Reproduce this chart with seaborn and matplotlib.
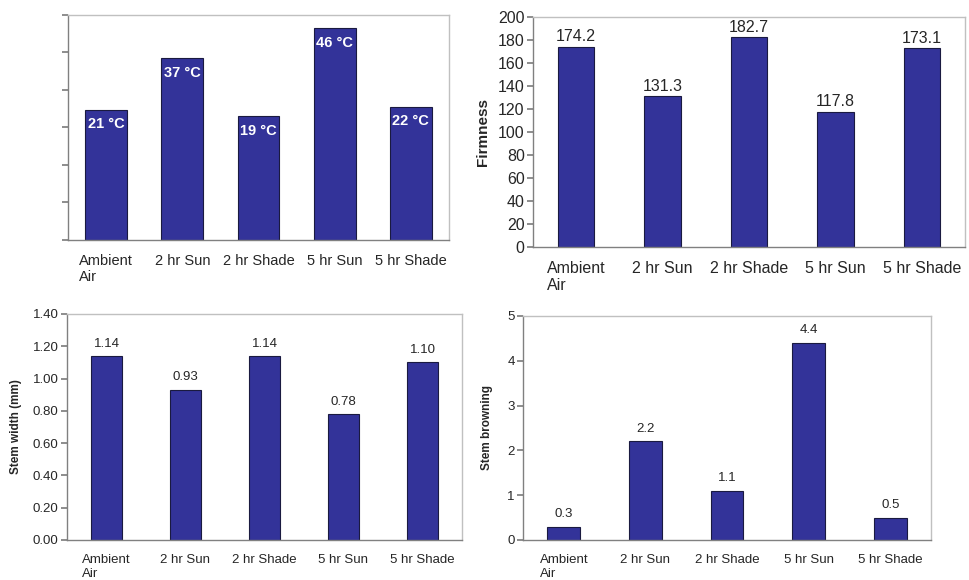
import matplotlib
matplotlib.use("Agg")
import matplotlib.pyplot as plt
import numpy as np
import seaborn as sns

# data
treatments = ["Ambient\nAir", "2 hr Sun", "2 hr Shade", "5 hr Sun", "5 hr Shade"]
temp_labels = ["21 \u00b0C", "37 \u00b0C", "19 \u00b0C", "46 \u00b0C", "22 \u00b0C"]
temp_f = [69.5, 97.0, 66.0, 113.0, 71.0]  # bar heights on the unlabelled axis (deg F)
firmness = [174.2, 131.3, 182.7, 117.8, 173.1]
stem_width = [1.14, 0.93, 1.14, 0.78, 1.10]
stem_browning = [0.3, 2.2, 1.1, 4.4, 0.5]

BAR = "#333399"
W, H = 970, 580

sns.set_theme(style="white")
plt.rcParams["font.family"] = ["Liberation Sans", "DejaVu Sans"]


def make_axes(fig, left, right, top, bottom):
    return fig.add_axes([left / W, 1 - bottom / H, (right - left) / W, (bottom - top) / H])


def style_axes(ax, xsize, ysize):
    ax.set_xlim(-0.5, 4.5)
    for side in ["left", "bottom"]:
        ax.spines[side].set_color("#808080")
        ax.spines[side].set_linewidth(1.0)
    for side in ["top", "right"]:
        ax.spines[side].set_color("#c0c0c0")
        ax.spines[side].set_linewidth(1.0)
    ax.set_xticks(range(len(treatments)))
    ax.set_xticklabels(treatments, fontsize=xsize, multialignment="left", va="top")
    ax.set_xticks(np.arange(-0.5, 5, 1), minor=True)
    ax.tick_params(axis="x", which="major", length=0, pad=10)
    ax.tick_params(axis="x", which="minor", length=4, color="#808080", direction="out")
    ax.tick_params(axis="y", length=4, color="#808080", direction="out", labelsize=ysize,
                   left=True, pad=2)
    ax.set_xlabel("")


def bars(ax, vals, width):
    sns.barplot(x=list(range(len(vals))), y=vals, color=BAR, width=width,
                edgecolor="#1a1a40", linewidth=0.8, saturation=1, ax=ax, native_scale=True)


fig = plt.figure(figsize=(9.7, 5.8), dpi=100)

# top left: temperatures
ax1 = make_axes(fig, 68, 449, 15, 240)
bars(ax1, temp_f, 0.55)
ax1.set_ylim(0, 120)
ax1.set_yticks(np.arange(0, 121, 20))
ax1.set_yticklabels([])
style_axes(ax1, 10.5, 10)
for i, (v, lab) in enumerate(zip(temp_f, temp_labels)):
    ax1.text(i, v - 4, lab, ha="center", va="top", color="white",
             fontsize=10.5, fontweight="bold")

# top right: firmness
ax2 = make_axes(fig, 533, 965, 17, 247)
bars(ax2, firmness, 0.42)
ax2.set_ylim(0, 200)
ax2.set_yticks(np.arange(0, 201, 20))
style_axes(ax2, 11.5, 11.5)
ax2.set_ylabel("Firmness", fontsize=11, fontweight="bold", labelpad=6)
for i, v in enumerate(firmness):
    ax2.text(i, v + 2, f"{v:.1f}", ha="center", va="bottom", fontsize=11.5)

# bottom left: stem width
ax3 = make_axes(fig, 67, 462, 314, 540)
bars(ax3, stem_width, 0.4)
ax3.set_ylim(0, 1.4)
ax3.set_yticks(np.arange(0, 1.41, 0.2))
ax3.set_yticklabels([f"{t:.2f}" for t in np.arange(0, 1.41, 0.2)])
style_axes(ax3, 9.5, 9.5)
ax3.set_ylabel("Stem width (mm)", fontsize=8.5, fontweight="bold", labelpad=8)
for i, v in enumerate(stem_width):
    ax3.text(i, v + 0.04, f"{v:.2f}", ha="center", va="bottom", fontsize=9.5)

# bottom right: stem browning
ax4 = make_axes(fig, 523, 931, 316, 540)
bars(ax4, stem_browning, 0.4)
ax4.set_ylim(0, 5)
ax4.set_yticks(range(0, 6))
style_axes(ax4, 9.5, 9.5)
ax4.set_ylabel("Stem browning", fontsize=8.5, fontweight="bold", labelpad=10)
for i, v in enumerate(stem_browning):
    ax4.text(i, v + 0.15, f"{v:.1f}", ha="center", va="bottom", fontsize=9.5)

fig.savefig("out.png", dpi=100)
